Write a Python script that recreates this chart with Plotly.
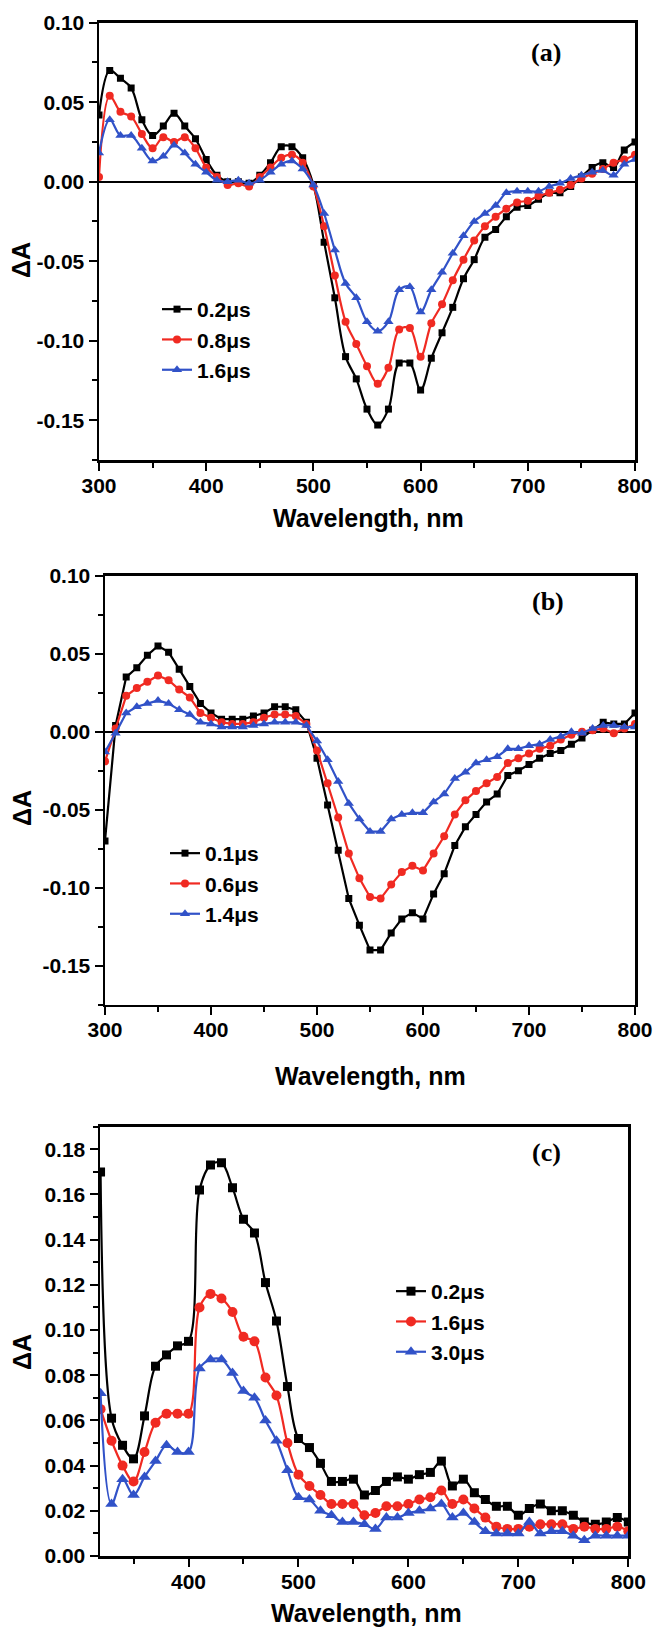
import plotly.graph_objects as go

# ---------------- data ----------------
wl_ab = [300, 310, 320, 330, 340, 350, 360, 370, 380, 390, 400, 410, 420, 430, 440, 450,
         460, 470, 480, 490, 500, 510, 520, 530, 540, 550, 560, 570, 580, 590, 600, 610,
         620, 630, 640, 650, 660, 670, 680, 690, 700, 710, 720, 730, 740, 750, 760, 770,
         780, 790, 800]
wl_c = [320, 330, 340, 350, 360, 370, 380, 390, 400, 410, 420, 430, 440, 450, 460, 470,
        480, 490, 500, 510, 520, 530, 540, 550, 560, 570, 580, 590, 600, 610, 620, 630,
        640, 650, 660, 670, 680, 690, 700, 710, 720, 730, 740, 750, 760, 770, 780, 790, 800]

names_a = ["0.2\u03bcs", "0.8\u03bcs", "1.6\u03bcs"]
names_b = ["0.1\u03bcs", "0.6\u03bcs", "1.4\u03bcs"]
names_c = ["0.2\u03bcs", "1.6\u03bcs", "3.0\u03bcs"]

a_black = [0.042, 0.070, 0.065, 0.059, 0.039, 0.029, 0.035, 0.043, 0.035, 0.027, 0.014, 0.004,
           0.000, 0.000, -0.001, 0.004, 0.012, 0.022, 0.022, 0.015, -0.002, -0.038, -0.073,
           -0.110, -0.124, -0.143, -0.153, -0.143, -0.114, -0.114, -0.131, -0.111, -0.095,
           -0.079, -0.061, -0.049, -0.035, -0.030, -0.022, -0.016, -0.015, -0.011, -0.007,
           -0.007, -0.003, 0.003, 0.009, 0.012, 0.009, 0.020, 0.025]
a_red = [0.003, 0.054, 0.044, 0.041, 0.030, 0.021, 0.028, 0.025, 0.028, 0.021, 0.009, 0.003,
         -0.002, -0.001, -0.003, 0.003, 0.009, 0.015, 0.017, 0.012, -0.003, -0.028, -0.059,
         -0.088, -0.102, -0.116, -0.127, -0.117, -0.093, -0.092, -0.110, -0.089, -0.077,
         -0.062, -0.049, -0.037, -0.028, -0.022, -0.017, -0.013, -0.012, -0.009, -0.007,
         -0.005, -0.002, 0.002, 0.005, 0.008, 0.012, 0.014, 0.017]
a_blue = [0.018, 0.039, 0.029, 0.029, 0.021, 0.013, 0.016, 0.023, 0.018, 0.011, 0.006, 0.001,
          0.000, 0.001, -0.001, 0.001, 0.006, 0.011, 0.013, 0.008, -0.002, -0.020, -0.043,
          -0.064, -0.073, -0.088, -0.094, -0.088, -0.068, -0.066, -0.082, -0.068, -0.057,
          -0.045, -0.034, -0.025, -0.020, -0.015, -0.007, -0.006, -0.006, -0.006, -0.003,
          -0.001, 0.002, 0.004, 0.006, 0.007, 0.004, 0.011, 0.014]

b_black = [-0.070, 0.004, 0.035, 0.041, 0.049, 0.055, 0.051, 0.040, 0.029, 0.018, 0.012, 0.008,
           0.008, 0.008, 0.010, 0.012, 0.016, 0.016, 0.014, 0.006, -0.017, -0.047, -0.076,
           -0.107, -0.124, -0.140, -0.140, -0.129, -0.120, -0.116, -0.120, -0.104, -0.091,
           -0.073, -0.061, -0.053, -0.045, -0.040, -0.028, -0.025, -0.021, -0.017, -0.014,
           -0.012, -0.008, -0.004, 0.001, 0.006, 0.005, 0.005, 0.012]
b_red = [-0.019, 0.002, 0.023, 0.028, 0.032, 0.036, 0.033, 0.027, 0.022, 0.012, 0.009, 0.006,
         0.005, 0.005, 0.006, 0.009, 0.011, 0.011, 0.010, 0.005, -0.012, -0.033, -0.055,
         -0.078, -0.094, -0.106, -0.107, -0.098, -0.090, -0.086, -0.089, -0.078, -0.067,
         -0.053, -0.044, -0.038, -0.033, -0.029, -0.020, -0.017, -0.014, -0.011, -0.009,
         -0.005, -0.002, 0.000, 0.001, 0.002, -0.001, 0.002, 0.005]
b_blue = [-0.013, -0.001, 0.012, 0.016, 0.018, 0.020, 0.018, 0.014, 0.011, 0.006, 0.005, 0.003,
          0.003, 0.003, 0.004, 0.005, 0.006, 0.006, 0.006, 0.004, -0.006, -0.018, -0.032,
          -0.046, -0.056, -0.064, -0.064, -0.056, -0.053, -0.052, -0.052, -0.045, -0.040,
          -0.030, -0.026, -0.020, -0.018, -0.016, -0.011, -0.011, -0.009, -0.008, -0.005,
          -0.003, 0.000, -0.001, 0.002, 0.004, 0.004, 0.003, 0.003]

c_black = [0.170, 0.061, 0.049, 0.043, 0.062, 0.084, 0.089, 0.093, 0.095, 0.162, 0.173, 0.174,
           0.163, 0.149, 0.143, 0.121, 0.104, 0.075, 0.052, 0.048, 0.041, 0.033, 0.033, 0.034,
           0.027, 0.029, 0.033, 0.035, 0.034, 0.036, 0.037, 0.042, 0.031, 0.034, 0.028, 0.025,
           0.022, 0.022, 0.018, 0.021, 0.023, 0.020, 0.020, 0.018, 0.015, 0.014, 0.015, 0.017,
           0.015]
c_red = [0.065, 0.051, 0.040, 0.033, 0.046, 0.059, 0.063, 0.063, 0.063, 0.110, 0.116, 0.114,
         0.108, 0.097, 0.095, 0.079, 0.071, 0.050, 0.036, 0.031, 0.027, 0.023, 0.023, 0.023,
         0.018, 0.019, 0.022, 0.022, 0.023, 0.025, 0.026, 0.029, 0.023, 0.025, 0.021, 0.017,
         0.013, 0.012, 0.012, 0.013, 0.014, 0.014, 0.014, 0.012, 0.013, 0.012, 0.012, 0.013,
         0.011]
c_blue = [0.072, 0.023, 0.034, 0.027, 0.035, 0.042, 0.049, 0.046, 0.046, 0.083, 0.087, 0.087,
          0.081, 0.073, 0.070, 0.060, 0.051, 0.038, 0.026, 0.025, 0.020, 0.018, 0.015, 0.015,
          0.014, 0.012, 0.017, 0.017, 0.019, 0.020, 0.021, 0.023, 0.017, 0.019, 0.015, 0.011,
          0.010, 0.010, 0.010, 0.015, 0.010, 0.011, 0.011, 0.009, 0.007, 0.009, 0.009, 0.009,
          0.009]

yt_ab = [-0.15, -0.10, -0.05, 0.00, 0.05, 0.10]
yt_ab_text = ["-0.15", "-0.10", "-0.05", "0.00", "0.05", "0.10"]
yt_c = [0.00, 0.02, 0.04, 0.06, 0.08, 0.10, 0.12, 0.14, 0.16, 0.18]
yt_c_text = ["0.00", "0.02", "0.04", "0.06", "0.08", "0.10", "0.12", "0.14", "0.16", "0.18"]
xt_ab = [300, 400, 500, 600, 700, 800]
xt_c = [400, 500, 600, 700, 800]

# ---------------- style ----------------
W, H = 654, 1629
SANS = "Liberation Sans, Arial, Helvetica, sans-serif"
SERIF = "Liberation Serif, Times New Roman, serif"
COLORS = ["#000000", "#f02a22", "#3152c8"]
SYMBOLS = ["square", "circle", "triangle-up"]


def px_x(v):
    return v / W


def px_y(v):
    return 1 - v / H


fig = go.Figure()

panels = [
    dict(x=wl_ab, ys=[a_black, a_red, a_blue], names=names_a, shape="spline", msz=[7, 8, 9],
         xa="x", ya="y", leg="legend"),
    dict(x=wl_ab, ys=[b_black, b_red, b_blue], names=names_b, shape="linear", msz=[7, 8, 9],
         xa="x2", ya="y2", leg="legend2"),
    dict(x=wl_c, ys=[c_black, c_red, c_blue], names=names_c, shape="spline", msz=[9, 10, 11],
         xa="x3", ya="y3", leg="legend3"),
]

for p in panels:
    for i, (yv, nm) in enumerate(zip(p["ys"], p["names"])):
        fig.add_trace(go.Scatter(
            x=p["x"], y=yv, name=nm, mode="lines+markers",
            line=dict(color=COLORS[i], width=2.2, shape=p["shape"], smoothing=1.0),
            marker=dict(symbol=SYMBOLS[i], size=p["msz"][i], color=COLORS[i]),
            xaxis=p["xa"], yaxis=p["ya"], legend=p["leg"], showlegend=True,
        ))

tickfont = dict(family=SANS, size=21, color="black", weight="bold")


def xaxis(domain, rng, tickvals, anchor):
    return dict(domain=domain, range=rng, anchor=anchor, showline=True, linecolor="black",
                linewidth=2.5, mirror=True, ticks="outside", ticklen=8, tickwidth=2,
                tickcolor="black", tickvals=tickvals, ticktext=[str(t) for t in tickvals],
                tickfont=tickfont, showgrid=False, zeroline=False, automargin=False,
                ticklabelstandoff=-3,
                minor=dict(ticks="outside", ticklen=5, tickwidth=2, tickcolor="black", dtick=50,
                           tick0=300, showgrid=False))


def yaxis(domain, rng, tickvals, ticktext, anchor, zl, minor_dtick):
    return dict(domain=domain, range=rng, anchor=anchor, showline=True, linecolor="black",
                linewidth=2.5, mirror=True, ticks="outside", ticklen=8, tickwidth=2,
                tickcolor="black", tickvals=tickvals, ticktext=ticktext, tickfont=tickfont,
                showgrid=False, zeroline=zl, zerolinecolor="black", zerolinewidth=2,
                automargin=False,
                minor=dict(ticks="outside", ticklen=5, tickwidth=2, tickcolor="black",
                           dtick=minor_dtick, tick0=0, showgrid=False))


legfont = dict(family=SANS, size=21, color="black", weight="bold")


def legend(x, y):
    return dict(x=px_x(x), y=px_y(y), xanchor="left", yanchor="top", xref="paper",
                yref="paper", font=legfont, bgcolor="rgba(0,0,0,0)", borderwidth=0,
                traceorder="normal", itemwidth=30)


fig.update_layout(
    width=W, height=H, margin=dict(l=0, r=0, t=0, b=0, pad=0, autoexpand=False),
    paper_bgcolor="white", plot_bgcolor="white",
    xaxis=xaxis([px_x(99), px_x(635)], [300, 800], xt_ab, "y"),
    yaxis=yaxis([px_y(460), px_y(22.7)], [-0.175, 0.10], yt_ab, yt_ab_text, "x", True, 0.025),
    xaxis2=xaxis([px_x(105), px_x(635)], [300, 800], xt_ab, "y2"),
    yaxis2=yaxis([px_y(1004.7), px_y(575.7)], [-0.175, 0.10], yt_ab, yt_ab_text, "x2", True, 0.025),
    xaxis3=xaxis([px_x(100), px_x(628.3)], [319.5, 800], xt_c, "y3"),
    yaxis3=yaxis([px_y(1556), px_y(1126.7)], [0, 0.19], yt_c, yt_c_text, "x3", False, 0.01),
    legend=legend(157, 289),
    legend2=legend(165, 833),
    legend3=legend(391, 1271),
    showlegend=True,
)

titlefont = dict(family=SANS, size=25, color="black", weight="bold")
ann = []
for cx, cy in [(368, 518), (370, 1076), (366, 1613)]:
    ann.append(dict(x=px_x(cx), y=px_y(cy), xref="paper", yref="paper", text="Wavelength, nm",
                    showarrow=False, font=titlefont, xanchor="center", yanchor="middle"))
for cx, cy in [(21, 260), (22, 808), (22, 1352)]:
    ann.append(dict(x=px_x(cx), y=px_y(cy), xref="paper", yref="paper", text="\u0394A",
                    showarrow=False, font=titlefont, textangle=-90, xanchor="center",
                    yanchor="middle"))
for lbl, cx, cy in [("(a)", 546, 52), ("(b)", 548, 602), ("(c)", 546, 1152)]:
    ann.append(dict(x=px_x(cx), y=px_y(cy), xref="paper", yref="paper", text=lbl,
                    showarrow=False, font=dict(family=SERIF, size=26, color="black", weight="bold"),
                    xanchor="center", yanchor="middle"))
fig.update_layout(annotations=ann)

page_fix = ("document.documentElement.style.margin='0';document.documentElement.style.padding='0';"
            "document.documentElement.style.overflow='hidden';"
            "document.body.style.margin='0';document.body.style.padding='0';"
            "document.body.style.overflow='hidden';")

fig.write_html("out.html", post_script=page_fix,
               config={"displayModeBar": False, "staticPlot": True})
